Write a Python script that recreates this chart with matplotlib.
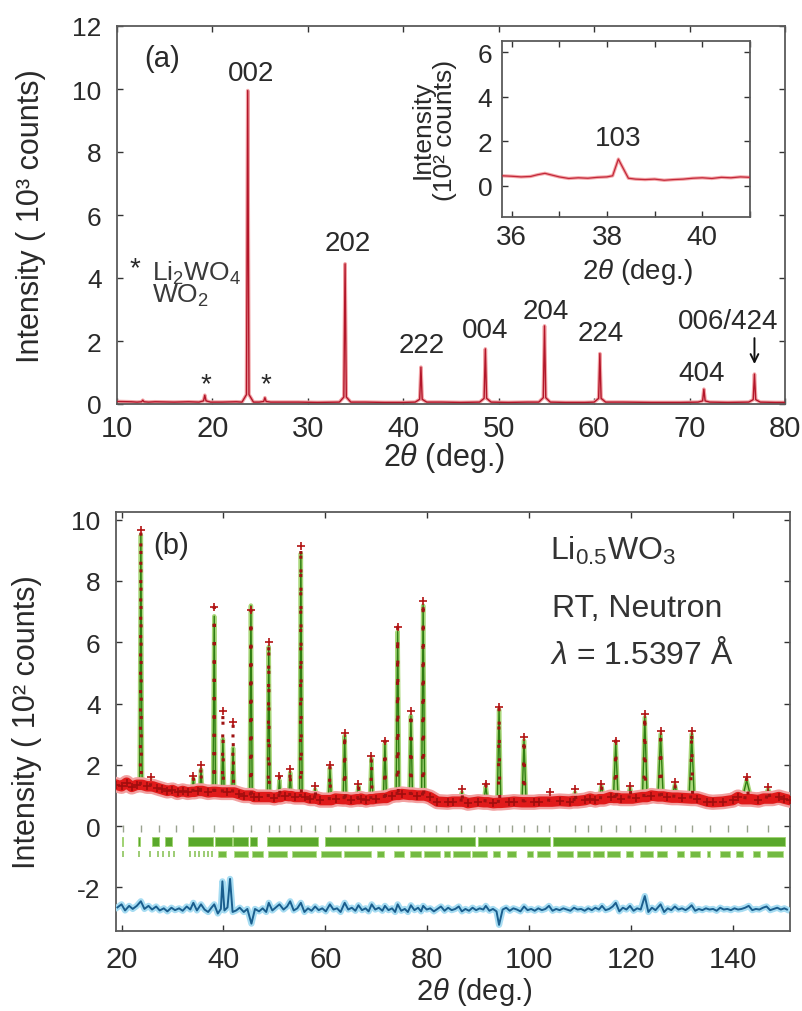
import matplotlib
matplotlib.use('Agg')
import matplotlib.pyplot as plt

plt.rcParams['font.family'] = ['Liberation Sans', 'DejaVu Sans']
plt.rcParams['mathtext.fontset'] = 'custom'
plt.rcParams['mathtext.rm'] = 'Liberation Sans'
plt.rcParams['mathtext.it'] = 'Liberation Sans:italic'
plt.rcParams['mathtext.bf'] = 'Liberation Sans:bold'
plt.rcParams['axes.unicode_minus'] = False

# ---------------- Panel (a): X-ray pattern (10^3 counts) ----------------
a_bg_x = [10.0, 11.5, 14.0, 16.0, 17.5, 21.0, 22.5, 27.0, 29.0, 31.0, 36.0, 38.0,
          40.0, 44.0, 46.0, 51.0, 53.0, 57.0, 59.0, 63.0, 66.0, 69.0, 74.0, 79.0, 80.0]
a_bg_y = [0.08, 0.07, 0.07, 0.06, 0.07, 0.06, 0.07, 0.06, 0.06, 0.05, 0.06, 0.05,
          0.05, 0.06, 0.05, 0.05, 0.06, 0.05, 0.05, 0.06, 0.05, 0.05, 0.05, 0.05, 0.05]
a_peak_pos = [12.7, 19.2, 23.7, 25.5, 33.9, 41.85, 48.6, 54.8, 60.6, 71.5, 76.8]
a_peak_h = [0.12, 0.28, 9.95, 0.20, 4.45, 1.17, 1.75, 2.48, 1.60, 0.47, 0.95]
a_peak_foot = [0.07, 0.10, 0.30, 0.08, 0.22, 0.15, 0.18, 0.20, 0.18, 0.10, 0.14]
a_labels = ['002', '202', '222', '004', '204', '224', '404', '006/424']
a_label_x = [24.1, 34.15, 41.9, 48.6, 54.9, 60.7, 71.3, 74.05]
a_label_y = [10.5, 5.11, 1.87, 2.35, 2.94, 2.25, 0.98, 2.62]

# inset (10^2 counts)
in_x = [35.8, 36.0, 36.2, 36.4, 36.55, 36.7, 36.85, 37.0, 37.2, 37.4,
        37.6, 37.8, 38.0, 38.12, 38.24, 38.3, 38.45, 38.6, 38.8, 39.0,
        39.2, 39.4, 39.6, 39.8, 40.0, 40.2, 40.4, 40.6, 40.8, 41.0]
in_y = [0.45, 0.43, 0.40, 0.42, 0.50, 0.56, 0.48, 0.40, 0.33, 0.36,
        0.34, 0.38, 0.40, 0.45, 1.20, 0.95, 0.34, 0.30, 0.28, 0.30,
        0.25, 0.28, 0.30, 0.34, 0.36, 0.33, 0.38, 0.36, 0.40, 0.38]

# ---------------- Panel (b): neutron pattern (10^2 counts) ----------------
b_bg_x = [19.0, 20, 21, 22, 23, 25, 27, 28, 29, 30, 31, 32, 33, 35, 37, 40.8, 43, 44,
          46, 47, 50, 52, 54, 56, 57, 59, 62, 65, 67, 68, 70, 73, 75, 78, 80.5, 82,
          84, 85, 88, 90, 93, 96, 97, 101, 102, 106, 108, 111, 112, 113, 116, 118,
          121, 124, 127, 130, 133, 135, 136, 138, 140, 141, 145, 149, 150, 151.2]
b_bg_y = [1.35, 1.30, 1.42, 1.28, 1.35, 1.30, 1.25, 1.20, 1.15, 1.18, 1.10, 1.15,
          1.10, 1.15, 1.10, 1.10, 1.05, 1.00, 0.95, 0.95, 0.92, 1.00, 0.95, 0.95,
          0.90, 0.85, 0.90, 0.85, 0.90, 0.85, 0.90, 1.00, 1.05, 1.00, 0.95, 0.80,
          0.78, 0.80, 0.75, 0.80, 0.75, 0.78, 0.80, 0.78, 0.80, 0.82, 0.80, 0.85,
          0.90, 0.85, 0.95, 0.90, 0.92, 1.00, 0.95, 0.92, 0.90, 0.80, 0.78, 0.80,
          0.85, 0.95, 0.85, 0.95, 0.90, 0.85]
b_peak_pos = [23.8, 25.8, 34.1, 35.6, 38.2, 39.9, 41.9, 45.4, 48.9, 51.0, 53.1, 55.2,
              58.0, 60.9, 63.8, 66.5, 69.05, 71.7, 74.2, 76.8, 79.2, 86.8, 91.5, 94.1,
              99.0, 104.0, 109.0, 114.2, 117.0, 119.8, 122.7, 125.8, 128.6, 131.9,
              142.7, 146.9]
b_peak_obs = [9.65, 1.60, 1.65, 2.00, 7.15, 3.75, 3.40, 7.05, 6.00, 1.65, 1.87, 9.15,
              1.30, 2.00, 3.05, 1.38, 2.30, 2.78, 6.50, 3.75, 7.36, 1.20, 1.38, 3.88,
              2.90, 1.10, 1.20, 1.38, 2.79, 1.32, 3.66, 3.12, 1.43, 3.12, 1.60, 1.27]
b_peak_calc = [9.50, 1.50, 1.55, 1.85, 6.85, 2.85, 2.55, 7.20, 5.85, 1.50, 1.75, 8.90,
               1.20, 1.90, 2.95, 1.30, 2.20, 2.70, 6.35, 3.60, 7.20, 1.10, 1.30, 3.80,
               2.80, 1.00, 1.10, 1.30, 2.70, 1.25, 3.55, 3.00, 1.35, 3.00, 1.50, 1.20]
b_peak_hw = [0.25, 0.30, 0.25, 0.25, 0.25, 0.25, 0.25, 0.25, 0.25, 0.25, 0.25, 0.25,
             0.30, 0.30, 0.30, 0.35, 0.30, 0.30, 0.30, 0.30, 0.30, 0.40, 0.40, 0.35,
             0.40, 0.50, 0.50, 0.50, 0.45, 0.50, 0.45, 0.50, 0.55, 0.50, 0.90, 0.90]
b_peak_base = [1.35, 1.30, 1.12, 1.15, 1.12, 1.10, 1.10, 1.00, 0.95, 0.95, 0.98, 0.95,
               0.90, 0.85, 0.88, 0.88, 0.88, 0.92, 1.02, 1.02, 1.00, 0.80, 0.78, 0.76,
               0.78, 0.80, 0.82, 0.88, 0.92, 0.90, 0.95, 0.97, 0.93, 0.90, 0.88, 0.90]

# reflection markers
row1_pos = [20.3, 23.8, 27.4, 30.7, 34.1, 38.2, 41.8, 45.4, 48.9, 51.0, 53.1, 55.3,
            58.0, 60.9, 63.8, 66.5, 69.1, 71.7, 74.2, 76.9, 79.4, 81.7, 84.1, 86.6,
            89.2, 91.5, 94.1, 96.6, 99.0, 101.5, 103.9, 109.0, 111.6, 114.2, 117.0,
            119.8, 122.7, 125.8, 128.6, 131.9, 135.5, 139.1, 142.7, 146.9]
row2_start = [20.1, 23.3, 25.9, 28.6, 33.0, 38.3, 41.9, 45.3, 48.5, 59.9, 89.9, 104.6]
row2_end = [20.35, 23.6, 27.3, 29.9, 37.9, 41.6, 44.9, 46.5, 58.6, 89.4, 104.1, 150.2]
row3_ticks = [20.3, 23.5, 25.5, 27.1, 28.1, 29.4, 30.4, 33.4, 34.4, 35.3, 36.2, 37.0, 37.8]
row3_start = [38.9, 42.1, 45.7, 48.7, 53.5, 59.1, 63.7, 70.2, 73.4, 76.7, 79.4, 83.3,
              85.1, 88.7, 93.0, 95.6, 99.5, 101.5, 105.4, 109.3, 112.6, 115.2, 119.1,
              121.8, 125.0, 129.0, 131.6, 134.9, 137.5, 140.7, 144.0, 146.6]
row3_end = [40.5, 44.8, 47.7, 52.5, 58.1, 63.0, 68.9, 71.5, 75.4, 78.7, 82.6, 84.5,
            88.4, 91.7, 94.3, 97.5, 100.8, 104.1, 108.7, 112.0, 114.6, 117.8, 120.4,
            124.4, 127.0, 130.3, 133.5, 135.5, 139.4, 142.0, 145.3, 149.9]

# difference curve
diff_x = [19.2, 20.0, 20.7, 21.5, 22.2, 23.0, 23.8, 24.5, 25.3, 26.0,
          26.8, 27.5, 28.3, 29.0, 29.8, 30.5, 31.3, 32.0, 32.8, 33.5,
          34.1, 34.8, 35.6, 36.3, 37.0, 37.7, 38.2, 38.9, 39.5, 39.8,
          40.2, 40.8, 41.3, 41.8, 42.5, 43.2, 44.0, 44.7, 45.5, 46.2,
          47.0, 47.7, 48.4, 48.9, 49.6, 50.3, 51.0, 51.8, 52.5, 53.1,
          53.8, 54.5, 55.2, 55.9, 56.6, 57.3, 58.0, 58.7, 59.4, 60.1,
          60.9, 61.6, 62.3, 63.0, 63.8, 64.5, 65.2, 65.9, 66.5, 67.2,
          67.9, 68.5, 69.1, 69.8, 70.5, 71.2, 71.7, 72.4, 73.1, 73.7,
          74.2, 74.9, 75.6, 76.2, 76.8, 77.5, 78.2, 78.8, 79.2, 79.9,
          80.6, 81.3, 82.0, 82.7, 83.4, 84.1, 84.8, 85.5, 86.2, 86.8,
          87.5, 88.2, 88.9, 89.6, 90.3, 91.0, 91.5, 92.2, 92.9, 93.6,
          94.1, 94.8, 95.5, 96.2, 96.9, 97.6, 98.3, 99.0, 99.7, 100.4,
          101.1, 101.8, 102.5, 103.2, 103.9, 104.6, 105.3, 106.0, 106.7, 107.4,
          108.1, 108.8, 109.5, 110.2, 110.9, 111.6, 112.3, 113.0, 113.7, 114.3,
          115.0, 115.7, 116.4, 117.0, 117.7, 118.4, 119.1, 119.8, 120.5, 121.2,
          121.9, 122.7, 123.4, 124.1, 124.8, 125.8, 126.5, 127.2, 127.9, 128.6,
          129.3, 130.0, 130.7, 131.4, 131.9, 132.6, 133.3, 134.0, 134.7, 135.4,
          136.1, 136.8, 137.5, 138.2, 138.9, 139.6, 140.3, 141.0, 141.7, 142.4,
          143.1, 143.8, 144.5, 145.2, 145.9, 146.6, 147.3, 148.0, 148.7, 149.4,
          150.1, 150.6]
diff_y = [-2.65, -2.55, -2.75, -2.60, -2.70, -2.60, -2.45, -2.70, -2.60, -2.72,
          -2.62, -2.75, -2.68, -2.78, -2.66, -2.74, -2.68, -2.76, -2.62, -2.72,
          -2.50, -2.75, -2.55, -2.72, -2.80, -2.65, -2.55, -2.85, -2.70, -1.80,
          -2.75, -2.65, -1.72, -2.80, -2.75, -2.66, -2.80, -2.70, -3.18, -2.70,
          -2.78, -2.68, -2.80, -2.50, -2.75, -2.65, -2.55, -2.72, -2.62, -2.45,
          -2.75, -2.68, -2.50, -2.80, -2.68, -2.76, -2.62, -2.74, -2.68, -2.78,
          -2.55, -2.72, -2.68, -2.80, -2.50, -2.72, -2.66, -2.76, -2.58, -2.74,
          -2.68, -2.78, -2.55, -2.72, -2.66, -2.76, -2.60, -2.74, -2.68, -2.80,
          -2.55, -2.76, -2.70, -2.80, -2.58, -2.74, -2.66, -2.78, -2.60, -2.72,
          -2.68, -2.78, -2.70, -2.62, -2.76, -2.66, -2.74, -2.70, -2.62, -2.78,
          -2.70, -2.76, -2.66, -2.74, -2.68, -2.72, -2.60, -2.76, -2.70, -2.78,
          -3.22, -2.72, -2.66, -2.76, -2.68, -2.72, -2.78, -2.62, -2.74, -2.70,
          -2.76, -2.68, -2.74, -2.70, -2.60, -2.76, -2.70, -2.74, -2.68, -2.72,
          -2.76, -2.66, -2.72, -2.70, -2.76, -2.68, -2.74, -2.66, -2.72, -2.60,
          -2.74, -2.70, -2.62, -2.50, -2.78, -2.66, -2.72, -2.60, -2.76, -2.68,
          -2.72, -2.28, -2.80, -2.66, -2.74, -2.55, -2.80, -2.68, -2.74, -2.62,
          -2.72, -2.68, -2.74, -2.66, -2.58, -2.76, -2.70, -2.74, -2.68, -2.72,
          -2.70, -2.76, -2.66, -2.72, -2.70, -2.74, -2.68, -2.72, -2.70, -2.66,
          -2.60, -2.74, -2.70, -2.72, -2.66, -2.62, -2.74, -2.70, -2.66, -2.72,
          -2.68, -2.72]

YT = 19      # y tick labels
XT = 21      # x tick labels
LAB = 22     # axis labels
SPINE = '#5a5a5a'
TXT = '#2a2a2a'


def style_axes(ax, xfs=XT, yfs=YT, padx=9, pady=10):
    for s in ax.spines.values():
        s.set_color(SPINE)
        s.set_linewidth(1.3)
    ax.tick_params(direction='in', length=4, width=1, colors='#333333',
                   top=True, right=True)
    ax.tick_params(axis='x', pad=padx, labelsize=xfs, labelcolor=TXT)
    ax.tick_params(axis='y', pad=pady, labelsize=yfs, labelcolor=TXT)


def peak_curve(bx, by, pos, tops, hws, bases, foot=None):
    pts = [(x, y) for x, y in zip(bx, by)
           if all(abs(x - p) > w + 0.05 for p, w in zip(pos, hws))]
    for i, (p, t, w, b) in enumerate(zip(pos, tops, hws, bases)):
        if foot is None:
            pts += [(p - w, b), (p, t), (p + w, b)]
        else:
            pts += [(p - w, b), (p - 0.13, foot[i]), (p, t), (p + 0.13, foot[i]), (p + w, b)]
    pts.sort()
    return [q[0] for q in pts], [q[1] for q in pts]


fig = plt.figure(figsize=(8.03, 10.12), dpi=100)

# ======================= Panel (a) =======================
axA = fig.add_axes([117 / 803, 1 - 405 / 1012, 668 / 803, 378 / 1012])
a_base = [0.06] * len(a_peak_pos)
a_hw = [0.6] * len(a_peak_pos)
ax_, ay_ = peak_curve(a_bg_x, a_bg_y, a_peak_pos, a_peak_h, a_hw, a_base, foot=a_peak_foot)
axA.plot(ax_, ay_, color='#f2a3a6', lw=2.6, zorder=2)
axA.plot(ax_, ay_, color='#b3162a', lw=1.0, zorder=3)
axA.set_xlim(10, 80)
axA.set_ylim(0, 12)
axA.set_xticks([10, 20, 30, 40, 50, 60, 70, 80])
axA.set_yticks([0, 2, 4, 6, 8, 10, 12])
style_axes(axA, padx=7, pady=11)
axA.set_xlabel(r'2$\theta$ (deg.)', fontsize=LAB, color=TXT)
axA.xaxis.set_label_coords(0.49, -0.095)
axA.set_ylabel('Intensity ( 10³ counts)', fontsize=LAB, color=TXT)
axA.yaxis.set_label_coords(-0.106, 0.5)

axA.text(12.9, 10.98, '(a)', fontsize=21, ha='left', va='center', color=TXT)
for lab, lx, ly in zip(a_labels, a_label_x, a_label_y):
    axA.text(lx, ly, lab, fontsize=20, ha='center', va='center', color=TXT)
axA.annotate('', xy=(76.8, 1.18), xytext=(76.8, 2.18),
             arrowprops=dict(arrowstyle='->', color='#111111', lw=1.4,
                             mutation_scale=14))
axA.text(19.3, 0.62, '*', fontsize=20, ha='center', va='center', color=TXT)
axA.text(25.6, 0.62, '*', fontsize=20, ha='center', va='center', color=TXT)
axA.text(11.3, 4.1, '*', fontsize=20, ha='left', va='baseline', color=TXT)
axA.text(13.65, 3.24, 'Li$_2$WO$_4$\nWO$_2$', fontsize=19, ha='left', va='baseline',
         multialignment='left', linespacing=0.8, color='#3a3a3a')

# ----- inset -----
axI = fig.add_axes([502 / 803, 1 - 218 / 1012, 248 / 803, 176 / 1012])
axI.plot(in_x, in_y, color='#f4a6a8', lw=2.4, zorder=2)
axI.plot(in_x, in_y, color='#c2283a', lw=0.9, zorder=3)
axI.set_xlim(35.8, 41.0)
axI.set_ylim(-1.4, 6.5)
axI.set_xticks([36, 37, 38, 39, 40, 41])
axI.set_xticklabels(['36', '', '38', '', '40', ''])
axI.set_yticks([0, 2, 4, 6])
style_axes(axI, xfs=20, yfs=19, padx=5, pady=7)
axI.set_xlabel(r'2$\theta$ (deg.)', fontsize=20, color=TXT)
axI.xaxis.set_label_coords(0.545, -0.22)
axI.set_ylabel('Intensity\n(10² counts)', fontsize=19, linespacing=0.95, color=TXT)
axI.yaxis.set_label_coords(-0.18, 0.5)
axI.text(38.24, 1.55, '103', fontsize=20, ha='center', va='bottom', color=TXT)

# ======================= Panel (b) =======================
axB = fig.add_axes([116 / 803, 1 - 932 / 1012, 674 / 803, 419 / 1012])

cx, cy = peak_curve(b_bg_x, b_bg_y, b_peak_pos, b_peak_calc, b_peak_hw, b_peak_base)
bx_, by_ = peak_curve(b_bg_x, b_bg_y, b_peak_pos, b_peak_base, b_peak_hw, b_peak_base)

# calculated profile (green)
axB.plot(cx, cy, color='#a9d77a', lw=3.2, zorder=2)
axB.plot(cx, cy, color='#2f7d12', lw=1.0, zorder=3)
# observed background band (red)
axB.plot(bx_, by_, color='#f2a0a0', lw=11, zorder=4, solid_joinstyle='round')
axB.plot(bx_, by_, color='#e01a1a', lw=7.5, zorder=5, solid_joinstyle='round')
axB.plot(b_bg_x, b_bg_y, ls='none', marker='+', ms=6, mew=1.2, color='#a00d0d', zorder=6)
# observed peaks (red crosses along the peaks)
for p, t, w, b in zip(b_peak_pos, b_peak_obs, b_peak_hw, b_peak_base):
    axB.plot([p - w * 0.4, p, p + w * 0.4], [b, t, b], ls=(0, (1.0, 5.0)), lw=2.2,
             color='#9e1212', zorder=6)
axB.plot(b_peak_pos, b_peak_obs, ls='none', marker='+', ms=6, mew=1.2,
         color='#b31313', zorder=7)

# reflection markers
axB.vlines(row1_pos, -0.2, 0.05, color='#9aa38f', lw=1.0, zorder=3)
axB.broken_barh([(s, e - s) for s, e in zip(row2_start, row2_end)], (-0.64, 0.29),
                facecolor='#5aa82c', edgecolor='#9fd36f', lw=0.6, zorder=3)
axB.vlines(row3_ticks, -1.0, -0.8, color='#8cc45c', lw=1.2, zorder=3)
axB.broken_barh([(s, e - s) for s, e in zip(row3_start, row3_end)], (-1.01, 0.21),
                facecolor='#73ba42', edgecolor='#b3df8a', lw=0.6, zorder=3)

# difference curve (blue)
axB.plot(diff_x, diff_y, color='#a6dcf2', lw=4.5, zorder=3)
axB.plot(diff_x, diff_y, color='#1a5e8e', lw=1.4, zorder=4)

axB.set_xlim(18.92, 151.2)
axB.set_ylim(-3.42, 10.25)
axB.set_xticks([20, 40, 60, 80, 100, 120, 140])
axB.set_yticks([-2, 0, 2, 4, 6, 8, 10])
style_axes(axB, padx=10, pady=11)
axB.set_xlabel(r'2$\theta$ (deg.)', fontsize=21, color=TXT)
axB.xaxis.set_label_coords(0.531, -0.105)
axB.set_ylabel('Intensity ( 10² counts)', fontsize=LAB, color=TXT)
axB.yaxis.set_label_coords(-0.11, 0.5)

axB.text(26.2, 9.17, '(b)', fontsize=21, ha='left', va='center', color=TXT)
axB.text(104.1, 8.72, r'Li$_{0.5}$WO$_3$', fontsize=23, ha='left', va='baseline',
         color='#333333')
axB.text(104.4, 6.87, 'RT, Neutron', fontsize=23, ha='left', va='baseline',
         color='#333333')
axB.text(104.1, 5.31, r'$\lambda$ = 1.5397 Å', fontsize=23, ha='left', va='baseline',
         color='#333333')

fig.savefig('out.png', dpi=100, facecolor='white')
